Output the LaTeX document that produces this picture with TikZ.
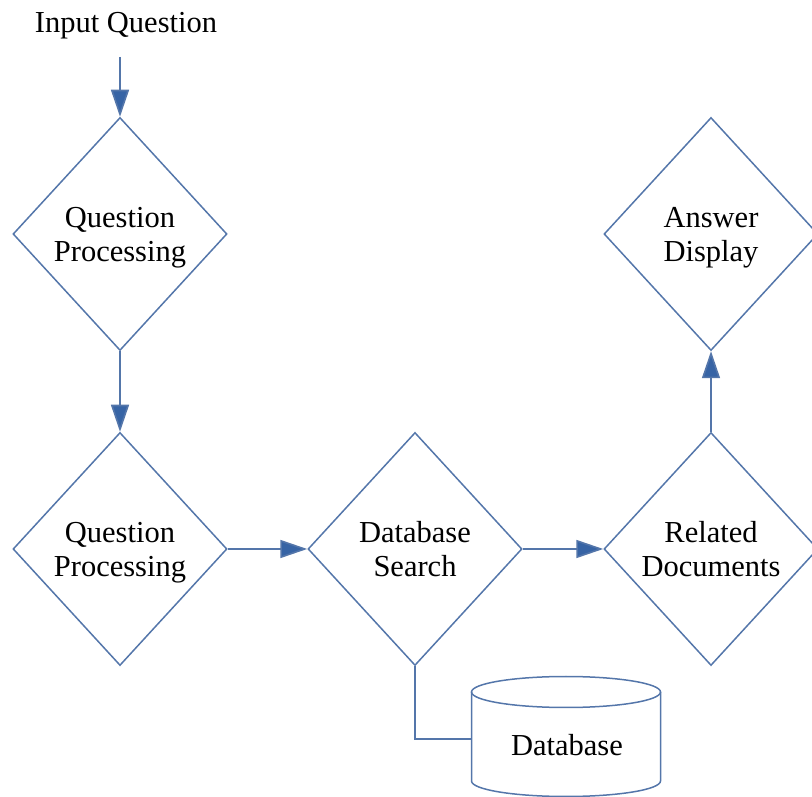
\documentclass[tikz,border=0pt]{standalone}
\usepackage{fontspec}
\setmainfont{Liberation Serif}
\usetikzlibrary{shapes.geometric,arrows.meta}
\definecolor{flowline}{RGB}{84,118,170}
\definecolor{flowhead}{RGB}{55,100,165}
\begin{document}
\begin{tikzpicture}[x=1pt,y=1pt,
  decision/.style={diamond, draw=flowline, line width=1.5pt,
    minimum width=214pt, minimum height=233pt, inner sep=0pt,
    text depth=0pt, align=center, font=\fontsize{30.5}{34}\selectfont},
  plaintext/.style={inner sep=0pt, font=\fontsize{30.5}{34}\selectfont},
  flow/.style={draw=flowline, line width=1.6pt,
    -{Triangle[length=27pt,width=18pt,fill=flowhead]}},
  link/.style={draw=flowline, line width=1.5pt}]
  \useasboundingbox (0,0) rectangle (812,796);

  % nodes
  \node[plaintext] (input) at (126,770) {Input Question};
  \coordinate (start) at (120,739);
  \node[decision] (qp1) at (120,562) {Question\\Processing};
  \node[decision] (qp2) at (120,247) {Question\\Processing};
  \node[decision] (search) at (415,247) {Database\\Search};
  \node[decision] (docs) at (711,247) {Related\\Documents};
  \node[decision] (answer) at (711,562) {Answer\\Display};

  % database cylinder
  \node[plaintext, minimum width=189pt, minimum height=10pt] (db) at (566,57) {};
  \node[plaintext] (dblabel) at (567,51) {Database};
  \draw[link] (566,104) ellipse [x radius=94.5pt, y radius=15.5pt];
  \draw[link] (471.5,104) -- (471.5,15)
    arc[start angle=180, end angle=360, x radius=94.5pt, y radius=15.5pt]
    -- (660.5,104);

  % connectors
  \draw[flow] (start) -- (qp1.north);
  \draw[flow] (qp1.south) -- (qp2.north);
  \draw[flow] (qp2.east) -- (search.west);
  \draw[flow] (search.east) -- (docs.west);
  \draw[flow] (docs.north) -- (answer.south);
  \draw[link] (search.south) |- (db.west);
\end{tikzpicture}
\end{document}
